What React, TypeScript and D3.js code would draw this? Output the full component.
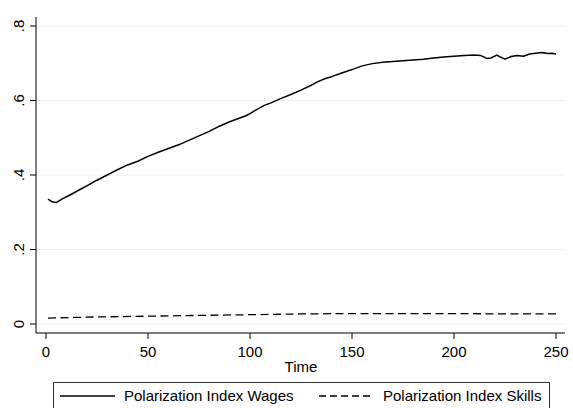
import React from "react";
import * as d3 from "d3";

const wageTime = [1, 3, 5, 8, 12, 16, 20, 25, 30, 35, 40, 45, 50, 55, 60, 65, 70, 75, 80, 85, 90, 95, 98, 100, 103, 107, 110, 115, 120, 125, 130, 133, 137, 140, 145, 150, 155, 160, 165, 170, 175, 180, 185, 190, 195, 200, 205, 210, 213, 216, 218, 221, 223, 225, 228, 231, 234, 237, 240, 243, 246, 248, 250];
const wageValues = [0.335, 0.328, 0.326, 0.336, 0.347, 0.359, 0.371, 0.386, 0.4, 0.414, 0.427, 0.437, 0.45, 0.461, 0.471, 0.481, 0.493, 0.505, 0.517, 0.531, 0.543, 0.553, 0.559, 0.565, 0.575, 0.587, 0.593, 0.605, 0.616, 0.628, 0.641, 0.65, 0.659, 0.664, 0.674, 0.683, 0.693, 0.699, 0.703, 0.705, 0.707, 0.709, 0.711, 0.714, 0.717, 0.719, 0.721, 0.722, 0.721, 0.713, 0.714, 0.722, 0.716, 0.711, 0.718, 0.721, 0.719, 0.725, 0.727, 0.729, 0.726, 0.727, 0.725];

const skillTime = [1, 25, 50, 75, 100, 125, 150, 175, 200, 225, 250];
const skillValues = [0.016, 0.019, 0.021, 0.023, 0.025, 0.027, 0.028, 0.028, 0.028, 0.027, 0.027];

const xTicks = [0, 50, 100, 150, 200, 250];
const yTicks = [0, 0.2, 0.4, 0.6, 0.8];
const yTickLabels = ["0", ".2", ".4", ".6", ".8"];

const seriesNames = ["Polarization Index Wages", "Polarization Index Skills"];

export default function App() {
  const font = "'Liberation Sans', Arial, sans-serif";
  const x = d3.scaleLinear().domain([0, 250]).range([46, 556]);
  const y = d3.scaleLinear().domain([0, 0.8]).range([324, 26]);
  const xLeft = 36, xRight = 565, yTop = 17, yBottom = 333;
  const fs = 15;

  const line = d3
    .line<[number, number]>()
    .x((d) => x(d[0]))
    .y((d) => y(d[1]));

  const wages: [number, number][] = wageTime.map((t, i) => [t, wageValues[i]]);
  const skills: [number, number][] = skillTime.map((t, i) => [t, skillValues[i]]);

  return (
    <svg width={573} height={408} style={{ position: "absolute", left: 0, top: 0, background: "#fff" }} fontFamily={font}>
      <rect x={0} y={0} width={573} height={408} fill="#fff" />
      {yTicks.map((t) => (
        <line key={"g" + t} x1={xLeft} x2={xRight} y1={y(t)} y2={y(t)} stroke="#eaf2f3" strokeWidth={1} />
      ))}
      <path d={line(skills) || ""} fill="none" stroke="#000" strokeWidth={1.3} strokeDasharray="8 4.5" />
      <path d={line(wages) || ""} fill="none" stroke="#000" strokeWidth={1.5} strokeLinejoin="round" />
      <line x1={xLeft} x2={xLeft} y1={yTop} y2={yBottom} stroke="#000" strokeWidth={1} />
      <line x1={xLeft} x2={xRight} y1={yBottom} y2={yBottom} stroke="#000" strokeWidth={1} />
      {yTicks.map((t, i) => (
        <g key={"y" + t}>
          <line x1={xLeft - 6} x2={xLeft} y1={y(t)} y2={y(t)} stroke="#000" />
          <text
            transform={`translate(${24},${y(t)}) rotate(-90)`}
            textAnchor="middle"
            fontSize={fs}
            fill="#000"
          >
            {yTickLabels[i]}
          </text>
        </g>
      ))}
      {xTicks.map((t) => (
        <g key={"x" + t}>
          <line x1={x(t)} x2={x(t)} y1={yBottom} y2={yBottom + 6} stroke="#000" />
          <text x={x(t)} y={357} textAnchor="middle" fontSize={fs} fill="#000">
            {t}
          </text>
        </g>
      ))}
      <text x={301} y={372} textAnchor="middle" fontSize={fs} fill="#000">
        Time
      </text>
      <rect x={53.5} y={382.5} width={496} height={40} fill="#fff" stroke="#333" strokeWidth={1} />
      <line x1={60} x2={115} y1={396} y2={396} stroke="#000" strokeWidth={1.3} />
      <text x={124} y={401} fontSize={fs} fill="#000">
        {seriesNames[0]}
      </text>
      <line x1={319} x2={374} y1={396} y2={396} stroke="#000" strokeWidth={1.3} strokeDasharray="7 4" />
      <text x={383} y={401} fontSize={fs} fill="#000">
        {seriesNames[1]}
      </text>
    </svg>
  );
}
